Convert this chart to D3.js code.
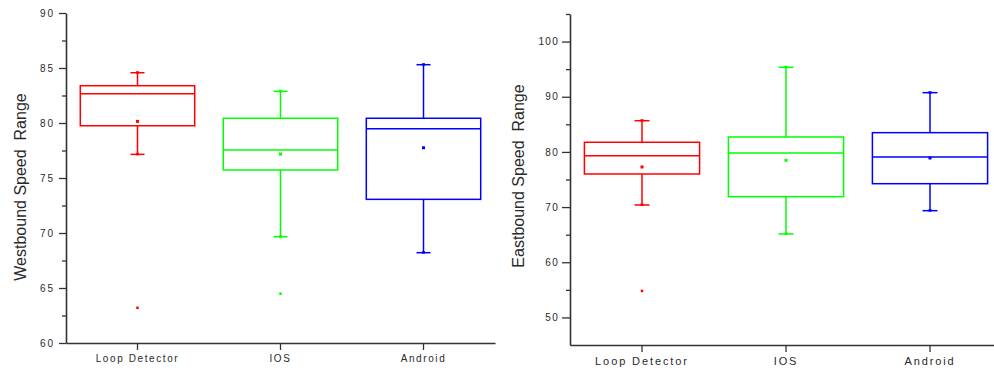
<!DOCTYPE html>
<html>
<head>
<meta charset="utf-8">
<script src="https://cdn.jsdelivr.net/npm/d3@7"></script>
<style>
  html, body { margin: 0; padding: 0; background: #fff; }
  svg { display: block; }
  text { font-family: "Liberation Sans", Arial, sans-serif; fill: #2a2a2a; }
</style>
</head>
<body>
<svg id="chart" width="994" height="373"></svg>
<script>
// Categories shared by both panels
const categories = ["Loop Detector", "IOS", "Android"];
const colors = ["#ff0000", "#00ff00", "#0000ff"];

// Westbound speed statistics (per category)
const westLower   = [77.15, 69.66, 68.21];
const westQ1      = [79.75, 75.73, 73.06];
const westMedian  = [82.66, 77.55, 79.48];
const westQ3      = [83.39, 80.43, 80.43];
const westUpper   = [84.57, 82.88, 85.30];
const westMean    = [80.15, 77.18, 77.75];
const westOutlier = [63.2, 64.48, null];

// Eastbound speed statistics (per category)
const eastLower   = [70.38, 65.13, 69.35];
const eastQ1      = [76.00, 71.89, 74.24];
const eastMedian  = [79.32, 79.81, 79.08];
const eastQ3      = [81.75, 82.71, 83.49];
const eastUpper   = [85.66, 95.34, 90.74];
const eastMean    = [77.27, 78.48, 78.90];
const eastOutlier = [54.8, null, null];

// Axis tick values
const westMajorTicks = [60, 65, 70, 75, 80, 85, 90];
const westMinorTicks = [62.5, 67.5, 72.5, 77.5, 82.5, 87.5];
const eastMajorTicks = [50, 60, 70, 80, 90, 100];
const eastMinorTicks = [55, 65, 75, 85, 95, 105];

const svg = d3.select("#chart");

function buildRows(lower, q1, median, q3, upper, mean, outlier) {
  return categories.map((c, i) => ({
    cat: c, color: colors[i],
    lower: lower[i], q1: q1[i], median: median[i], q3: q3[i],
    upper: upper[i], mean: mean[i], outlier: outlier[i]
  }));
}

function drawPanel(opts) {
  const g = svg.append("g");
  const x = d3.scaleBand().domain(categories).range([opts.left, opts.right]).padding(0);
  const y = d3.scaleLinear().domain(opts.domain).range([opts.bottom, opts.top]);

  // Y axis: major and minor ticks
  const yMinor = g.append("g").attr("transform", `translate(${opts.left},0)`)
    .call(d3.axisLeft(y).tickValues(opts.minor).tickSize(4).tickSizeOuter(0).tickFormat(""));
  yMinor.select(".domain").remove();
  const yMajor = g.append("g").attr("transform", `translate(${opts.left},0)`)
    .call(d3.axisLeft(y).tickValues(opts.major).tickSize(opts.majorLen).tickSizeOuter(0)
      .tickPadding(opts.yPad).tickFormat(d3.format("d")));
  yMajor.selectAll("text")
    .style("font-size", opts.yFont + "px")
    .style("letter-spacing", opts.ySpacing + "px")
    .attr("fill", "#2a2a2a");
  g.selectAll(".tick line").attr("stroke", "#333").attr("stroke-width", 1.3);
  yMajor.select(".domain").attr("stroke", "#333").attr("stroke-width", 1.6);

  // X axis
  const xAxis = g.append("g").attr("transform", `translate(0,${opts.bottom})`)
    .call(d3.axisBottom(x).tickSize(7).tickSizeOuter(0).tickPadding(opts.xPad));
  xAxis.select(".domain").attr("stroke", "#333").attr("stroke-width", 1.6);
  xAxis.selectAll(".tick line").attr("stroke", "#333").attr("stroke-width", 1.3);
  xAxis.selectAll("text")
    .style("font-size", opts.xFont + "px")
    .style("letter-spacing", opts.xSpacing + "px")
    .attr("fill", "#2a2a2a");

  // Y axis title (double space kept as drawn)
  g.append("text")
    .attr("transform", `translate(${opts.titleX},${opts.titleY}) rotate(-90)`)
    .attr("text-anchor", "middle")
    .attr("dominant-baseline", "central")
    .style("font-size", "16px")
    .style("white-space", "pre")
    .attr("xml:space", "preserve")
    .text(opts.title);

  // Boxes
  const bw = x.bandwidth() * 0.8;
  const cap = opts.cap;
  const boxes = g.selectAll(".box").data(opts.rows).enter().append("g")
    .attr("class", "box");
  boxes.each(function(d) {
    const s = d3.select(this);
    const cx = x(d.cat) + x.bandwidth() / 2;
    const apply = (sel) => sel.attr("stroke", d.color).attr("stroke-width", 1.5).attr("fill", "none");
    // whiskers
    apply(s.append("line").attr("x1", cx).attr("x2", cx).attr("y1", y(d.upper)).attr("y2", y(d.q3)));
    apply(s.append("line").attr("x1", cx).attr("x2", cx).attr("y1", y(d.q1)).attr("y2", y(d.lower)));
    apply(s.append("line").attr("x1", cx - cap / 2).attr("x2", cx + cap / 2).attr("y1", y(d.upper)).attr("y2", y(d.upper)));
    apply(s.append("line").attr("x1", cx - cap / 2).attr("x2", cx + cap / 2).attr("y1", y(d.lower)).attr("y2", y(d.lower)));
    // min / max markers on the caps
    [d.upper, d.lower].forEach(v => {
      s.append("rect").attr("x", cx - 1.5).attr("y", y(v) - 1.5).attr("width", 3).attr("height", 2.5)
        .attr("fill", d.color);
    });
    // box and median
    apply(s.append("rect").attr("x", cx - bw / 2).attr("y", y(d.q3))
      .attr("width", bw).attr("height", y(d.q1) - y(d.q3)));
    apply(s.append("line").attr("x1", cx - bw / 2).attr("x2", cx + bw / 2)
      .attr("y1", y(d.median)).attr("y2", y(d.median)));
    // mean
    s.append("rect").attr("x", cx - 1.5).attr("y", y(d.mean) - 1.5).attr("width", 3).attr("height", 3)
      .attr("fill", d.color);
    // outlier
    if (d.outlier != null) {
      s.append("rect").attr("x", cx - 1.25).attr("y", y(d.outlier) - 1.25).attr("width", 2.5).attr("height", 2.5)
        .attr("fill", d.color);
    }
  });
}

drawPanel({
  left: 66, right: 495, top: 13, bottom: 343, domain: [60, 90],
  major: westMajorTicks, minor: westMinorTicks, majorLen: 7, yPad: 4,
  yFont: 10, ySpacing: 2, xFont: 10, xSpacing: 1.6, xPad: 5,
  title: "Westbound Speed  Range", titleX: 20, titleY: 187, cap: 14,
  rows: buildRows(westLower, westQ1, westMedian, westQ3, westUpper, westMean, westOutlier)
});

drawPanel({
  left: 570, right: 1002, top: 14, bottom: 345, domain: [45, 105],
  major: eastMajorTicks, minor: eastMinorTicks, majorLen: 8, yPad: 3,
  yFont: 10, ySpacing: 1.3, xFont: 11, xSpacing: 1.9, xPad: 5,
  title: "Eastbound Speed  Range", titleX: 518, titleY: 176, cap: 15,
  rows: buildRows(eastLower, eastQ1, eastMedian, eastQ3, eastUpper, eastMean, eastOutlier)
});
</script>
</body>
</html>
